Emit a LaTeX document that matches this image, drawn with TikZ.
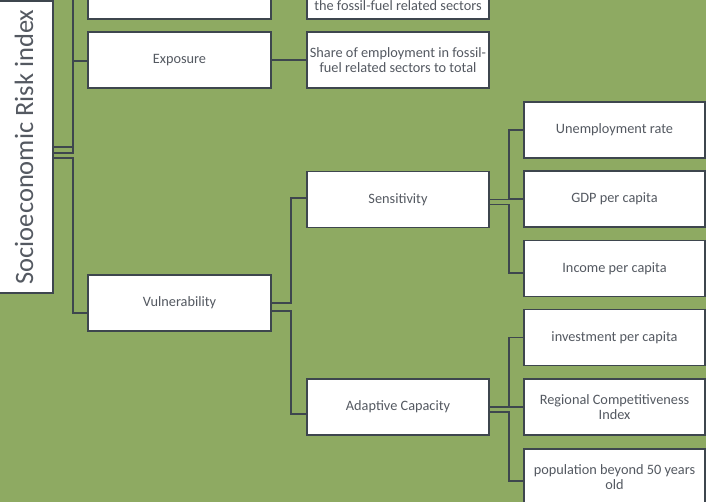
\documentclass[tikz,border=0pt]{standalone}
\usepackage{fontspec}
\setmainfont{Carlito}

\definecolor{bggreen}{RGB}{142,170,98}
\definecolor{boxline}{RGB}{62,70,78}
\definecolor{boxtext}{RGB}{84,89,97}

\tikzset{
  box/.style={draw=boxline, line width=1.8pt, fill=white, text=boxtext,
    minimum width=182pt, minimum height=56pt, inner sep=2pt, align=center,
    font=\fontsize{14.3}{15.5}\selectfont},
  lbl/.style={text=boxtext, inner sep=0pt, font=\fontsize{14.3}{15.5}\selectfont},
  conn/.style={draw=boxline, line width=1.6pt},
}

\begin{document}
\begin{tikzpicture}[x=1pt, y=-1pt]
        % ==== CANVAS ====
        \fill[bggreen] (0,0) rectangle (706,502);
        \useasboundingbox (0,0) rectangle (706,502);

        % ==== ROOT (rotated, so its south side faces right) ====
        \node[box, rotate=90, minimum width=292pt, minimum height=58pt,
              font=\fontsize{26.5}{30}\selectfont] (root) at (24,147) {Socioeconomic Risk index};

        % ==== LEVEL 1 ====
        \node[box, minimum width=183pt] (topA) at (179.5,-9) {};
        \node[box, minimum width=183pt] (expo) at (179.5,60) {Exposure};
        \node[box, minimum width=183pt] (vuln) at (179.5,303) {Vulnerability};

        % ==== LEVEL 2 ====
        \node[box] (topB) at (398,-9) {};
        \node[lbl] (topBtxt) at (398,6) {the fossil-fuel related sectors};
        \node[box] (share) at (398,60) {Share of employment in fossil-\\fuel related sectors to total};
        \node[box] (sens) at (398,199.5) {Sensitivity};
        \node[box] (adapt) at (398,407) {Adaptive Capacity};

        % ==== LEVEL 3 ====
        \node[box, minimum width=181pt] (unemp) at (614.5,130) {Unemployment rate};
        \node[box, minimum width=181pt] (gdp) at (614.5,199) {GDP per capita};
        \node[box, minimum width=181pt] (income) at (614.5,268.5) {Income per capita};
        \node[box, minimum width=181pt] (invest) at (614.5,337.5) {investment per capita};
        \node[box, minimum width=181pt] (region) at (614.5,407) {Regional Competitiveness\\Index};
        \node[box, minimum width=181pt] (popul) at (614.5,477) {population beyond 50 years\\old};

        % ==== Connectors ====
        \draw[conn] (root.south) -- ++(19,0) |- (topA.west);
        \draw[conn] ([yshift=-6pt]root.south) -- ++(19,0) |- ([yshift=-1pt]expo.west);
        \draw[conn] ([yshift=-11pt]root.south) -- ++(19,0) |- ([yshift=-10pt]vuln.west);

        \draw[conn] (topA.east) -- (topB.west);
        \draw[conn] (expo.east) -- (share.west);

        \draw[conn] (vuln.east) -- ++(19,0) |- ([yshift=1.5pt]sens.west);
        \draw[conn] ([yshift=-8pt]vuln.east) -- ++(19,0) |- ([yshift=-7pt]adapt.west);

        \draw[conn] (sens.east) -- ++(19,0) |- (unemp.west);
        \draw[conn] (sens.east) -- ++(19,0) |- (gdp.west);
        \draw[conn] ([yshift=-5pt]sens.east) -- ++(19,0) |- ([yshift=-4.5pt]income.west);

        \draw[conn] (adapt.east) -- ++(19,0) |- (invest.west);
        \draw[conn] (adapt.east) -- (region.west);
        \draw[conn] ([yshift=-5pt]adapt.east) -- ++(19,0) |- ([yshift=-4pt]popul.west);
\end{tikzpicture}
\end{document}
